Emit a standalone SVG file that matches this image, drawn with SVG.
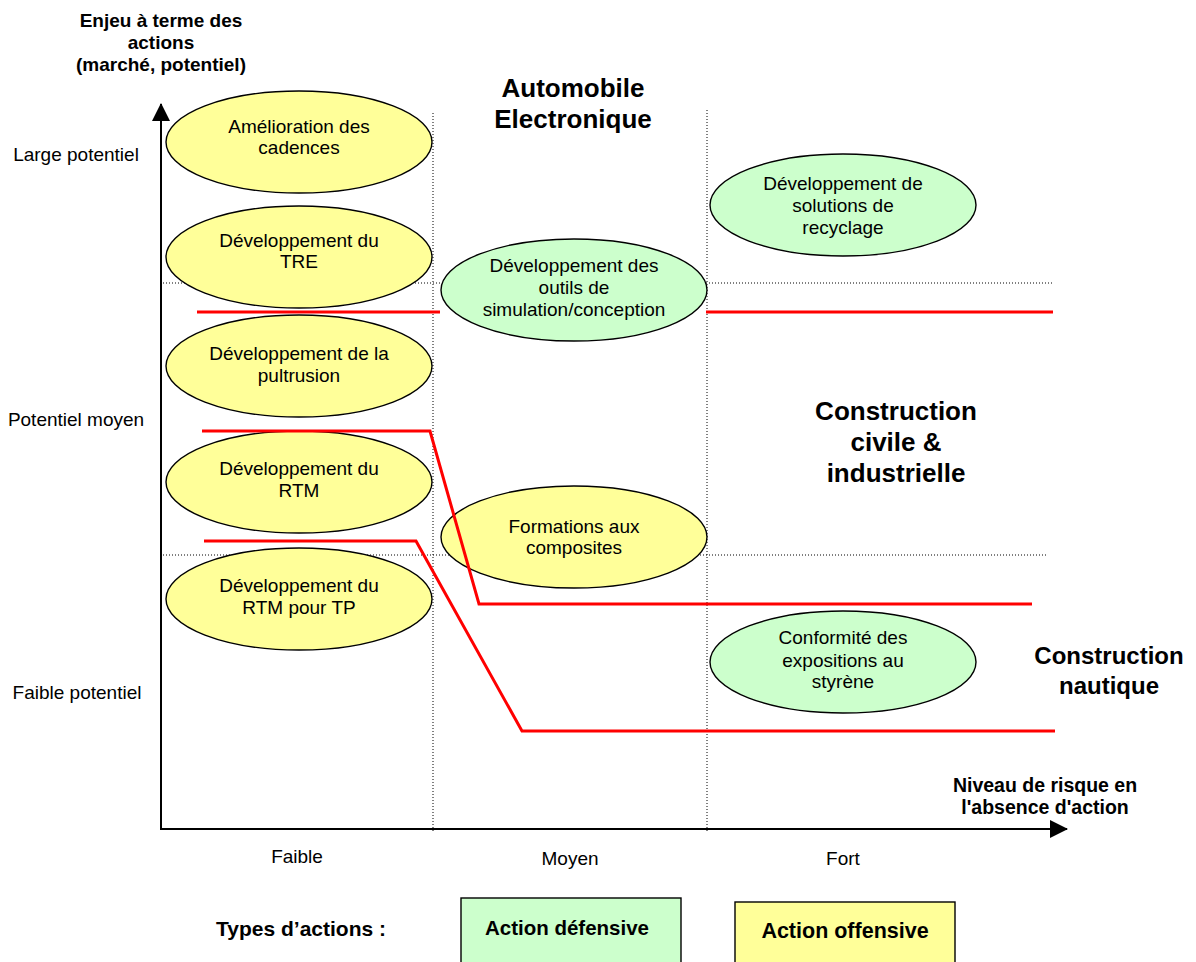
<svg xmlns="http://www.w3.org/2000/svg" width="1196" height="962" viewBox="0 0 1196 962">
<style>
text{font-family:"Liberation Sans",Arial,sans-serif;fill:#000}
.t{font-size:19px;text-anchor:middle}
.l{font-size:19px;text-anchor:middle}
.b{font-weight:bold;text-anchor:middle}
.grid{stroke:#000;stroke-width:1;stroke-dasharray:1 2;fill:none}
.red{stroke:#FF0000;stroke-width:3;fill:none}
.off{fill:#FFFF99;stroke:#000;stroke-width:1.4}
.def{fill:#CCFFCC;stroke:#000;stroke-width:1.4}
.axis{stroke:#000;stroke-width:2;fill:none}
</style>
<defs>
<marker id="arr" viewBox="0 0 18 18" refX="17" refY="9" markerWidth="18" markerHeight="18" markerUnits="userSpaceOnUse" orient="auto">
<path d="M0,0 L18,9 L0,18 Z" fill="#000"/>
</marker>
</defs>
<rect width="1196" height="962" fill="#fff"/>

<g id="grid">
<line class="grid" x1="433" y1="113" x2="433" y2="833"/>
<line class="grid" x1="707" y1="110" x2="707" y2="833"/>
<line class="grid" x1="163" y1="283" x2="1053" y2="283"/>
<line class="grid" x1="163" y1="555" x2="1047" y2="555"/>
</g>

<g id="axis-labels">
<text class="b" style="font-size:19px" x="161" y="27">Enjeu à terme des</text>
<text class="b" style="font-size:19px" x="161" y="49">actions</text>
<text class="b" style="font-size:19px" x="161" y="71">(marché, potentiel)</text>
<text class="l" x="76" y="161">Large potentiel</text>
<text class="l" x="76" y="426">Potentiel moyen</text>
<text class="l" x="77" y="699">Faible potentiel</text>
<text class="l" x="297" y="863">Faible</text>
<text class="l" x="570" y="865">Moyen</text>
<text class="l" x="843" y="865">Fort</text>
<text class="b" style="font-size:19.5px" x="1045" y="792">Niveau de risque en</text>
<text class="b" style="font-size:19.5px" x="1045" y="814">l'absence d'action</text>
</g>

<g id="sector-labels">
<text class="b" style="font-size:26px" x="573" y="97">Automobile</text>
<text class="b" style="font-size:26px" x="573" y="128">Electronique</text>
<text class="b" style="font-size:26px" x="896" y="420">Construction</text>
<text class="b" style="font-size:26px" x="896" y="451">civile &amp;</text>
<text class="b" style="font-size:26px" x="896" y="482">industrielle</text>
<text class="b" style="font-size:24px" x="1109" y="664">Construction</text>
<text class="b" style="font-size:24px" x="1109" y="694">nautique</text>
</g>

<g id="n-amelioration">
<ellipse class="off" cx="299" cy="142" rx="133" ry="51"/>
<text class="t" x="299" y="133">Amélioration des</text>
<text class="t" x="299" y="154">cadences</text>
</g>
<g id="n-tre">
<ellipse class="off" cx="299" cy="257" rx="133" ry="51"/>
<text class="t" x="299" y="247">Développement du</text>
<text class="t" x="299" y="268">TRE</text>
</g>
<g id="n-pultrusion">
<ellipse class="off" cx="299" cy="366" rx="133" ry="51"/>
<text class="t" x="299" y="360">Développement de la</text>
<text class="t" x="299" y="382">pultrusion</text>
</g>
<g id="n-rtm">
<ellipse class="off" cx="299" cy="482" rx="133" ry="51"/>
<text class="t" x="299" y="475">Développement du</text>
<text class="t" x="299" y="497">RTM</text>
</g>
<g id="n-rtm-tp">
<ellipse class="off" cx="299" cy="599" rx="133" ry="51"/>
<text class="t" x="299" y="592">Développement du</text>
<text class="t" x="299" y="614">RTM pour TP</text>
</g>
<g id="n-formations">
<ellipse class="off" cx="574" cy="537" rx="133" ry="51"/>
<text class="t" x="574" y="533">Formations aux</text>
<text class="t" x="574" y="554">composites</text>
</g>
<g id="n-simulation">
<ellipse class="def" cx="574" cy="290" rx="133" ry="51"/>
<text class="t" x="574" y="272">Développement des</text>
<text class="t" x="574" y="294">outils de</text>
<text class="t" x="574" y="316">simulation/conception</text>
</g>
<g id="n-recyclage">
<ellipse class="def" cx="843" cy="205" rx="133" ry="51"/>
<text class="t" x="843" y="190">Développement de</text>
<text class="t" x="843" y="212">solutions de</text>
<text class="t" x="843" y="234">recyclage</text>
</g>
<g id="n-styrene">
<ellipse class="def" cx="843" cy="662" rx="133" ry="51"/>
<text class="t" x="843" y="644">Conformité des</text>
<text class="t" x="843" y="667">expositions au</text>
<text class="t" x="843" y="688">styrène</text>
</g>

<g id="connectors">
<line class="red" x1="197" y1="312" x2="440" y2="312"/>
<line class="red" x1="706" y1="312" x2="1053" y2="312"/>
<polyline class="red" points="202,431 430,431 479,604 1032,604"/>
<polyline class="red" points="204,541 416,541 522,731 1055,731"/>
<line class="axis" x1="161" y1="830" x2="161" y2="104" marker-end="url(#arr)"/>
<line class="axis" x1="160" y1="829" x2="1067" y2="829" marker-end="url(#arr)"/>
</g>

<g id="legend">
<text class="b" style="font-size:21px;text-anchor:start" x="216" y="936">Types d’actions :</text>
<rect class="def" x="461" y="898" width="220" height="80"/>
<text class="b" style="font-size:20.5px" x="567" y="935">Action défensive</text>
<rect class="off" x="735" y="902" width="220" height="80"/>
<text class="b" style="font-size:21.5px" x="845" y="938">Action offensive</text>
</g>
</svg>
